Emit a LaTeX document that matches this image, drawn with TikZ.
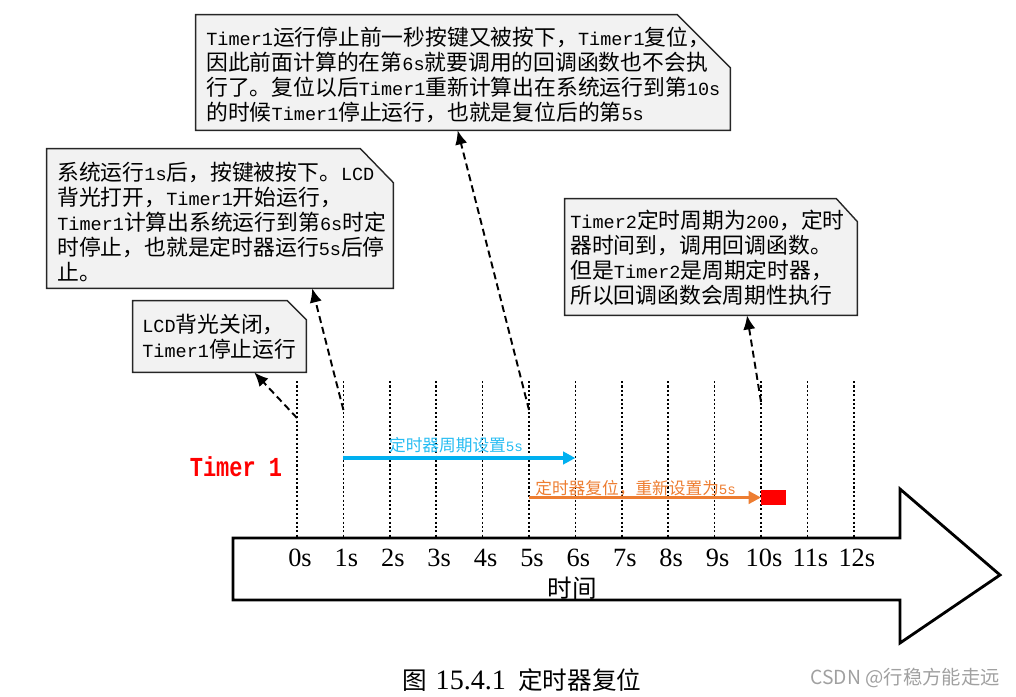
\documentclass[tikz,border=0pt]{standalone}
\usepackage{fontspec}
\usepackage{graphicx}
\setmainfont{Noto Sans CJK SC}
\newfontfamily\monof[Scale=0.85]{Liberation Mono}
\newfontfamily\monob{Liberation Mono}
\newfontfamily\serf{Liberation Serif}
\usetikzlibrary{arrows.meta,fit,calc}
\definecolor{boxfill}{HTML}{F2F2F2}
\definecolor{tblue}{RGB}{0,176,240}
\definecolor{torange}{RGB}{237,125,49}
\definecolor{wmgray}{HTML}{A0A0A0}
\newcommand\mylat[1]{{\monof #1}}
\begin{document}
\begin{tikzpicture}[x=0.02cm,y=-0.02cm,
  callout/.style={draw=black!85, line width=0.8pt, fill=boxfill},
  boxarea/.style={inner sep=0pt, draw=none},
  calltext/.style={anchor=north west, inner sep=0pt, align=left, font=\fontsize{12.4}{14.2}\selectfont},
  gridline/.style={line width=1pt, dash pattern=on 1.2pt off 1.3pt},
  pointer/.style={line width=1.1pt, dash pattern=on 4pt off 2.4pt, -{Latex[length=8pt,width=7pt]}},
  period/.style={line width=1.8pt, -{Triangle[length=7pt,width=7pt]}},
  ticklabel/.style={font=\serf\fontsize{15}{16}\selectfont, inner sep=0pt},
  smalllabel/.style={font=\fontsize{9.5}{11}\selectfont, inner sep=0pt},
  timeline/.style={draw=black, line width=1.6pt, fill=white, line join=miter}
]
\useasboundingbox (0,0) rectangle (1016,696);

% time axis arrow
\draw[timeline] (233,538) -- (900,538) -- (900,489) -- (1000,575) -- (900,643) -- (900,600) -- (233,600) -- cycle;
\node[font=\fontsize{14}{16}\selectfont, inner sep=0pt] (axisname) at (572,588) {时间};

% grid lines and tick labels
\foreach \i in {0,...,12}{
  \pgfmathsetmacro\gx{297+46.4*\i}
  \coordinate (gt\i) at (\gx,381);
  \coordinate (gb\i) at (\gx,537);
  \draw[gridline] (gt\i) -- (gb\i);
  \node[ticklabel] (tick\i) at (\gx+3,558) {\i s};
}

% callout boxes
\coordinate (a1) at (196,15);  \coordinate (a2) at (730,130);
\coordinate (b1) at (47,149);  \coordinate (b2) at (393,288);
\coordinate (c1) at (133,301); \coordinate (c2) at (306,372);
\coordinate (d1) at (565,199); \coordinate (d2) at (857,315);
\node[boxarea, fit=(a1)(a2)] (boxA) {};
\node[boxarea, fit=(b1)(b2)] (boxB) {};
\node[boxarea, fit=(c1)(c2)] (boxC) {};
\node[boxarea, fit=(d1)(d2)] (boxD) {};
\draw[callout] (boxA.south west) -- (boxA.north west) -- ([xshift=-1.06cm]boxA.north east) -- ([yshift=-1.06cm]boxA.north east) -- (boxA.south east) -- cycle;
\draw[callout] (boxB.south west) -- (boxB.north west) -- ([xshift=-0.66cm]boxB.north east) -- ([yshift=-0.68cm]boxB.north east) -- (boxB.south east) -- cycle;
\draw[callout] (boxC.south west) -- (boxC.north west) -- ([xshift=-0.38cm]boxC.north east) -- ([yshift=-0.38cm]boxC.north east) -- (boxC.south east) -- cycle;
\draw[callout] (boxD.south west) -- (boxD.north west) -- ([xshift=-0.42cm]boxD.north east) -- ([yshift=-0.46cm]boxD.north east) -- (boxD.south east) -- cycle;

\node[calltext] (tA) at (206,27) {\mylat{Timer1}运行停止前一秒按键又被按下，\mylat{Timer1}复位，\\
因此前面计算的在第\mylat{6s}就要调用的回调函数也不会执\\
行了。复位以后\mylat{Timer1}重新计算出在系统运行到第\mylat{10s}\\
的时候\mylat{Timer1}停止运行，也就是复位后的第\mylat{5s}};
\node[calltext] (tB) at (57,162) {系统运行\mylat{1s}后，按键被按下。\mylat{LCD}\\
背光打开，\mylat{Timer1}开始运行，\\
\mylat{Timer1}计算出系统运行到第\mylat{6s}时定\\
时停止，也就是定时器运行\mylat{5s}后停\\
止。};
\node[calltext] (tC) at (142,314) {\mylat{LCD}背光关闭，\\
\mylat{Timer1}停止运行};
\node[calltext] (tD) at (570,210) {\mylat{Timer2}定时周期为\mylat{200}，定时\\
器时间到，调用回调函数。\\
但是\mylat{Timer2}是周期定时器，\\
所以回调函数会周期性执行};

% pointers from the time axis to the callouts
\coordinate (s0) at (297,418);
\coordinate (s1) at (343.4,410);
\coordinate (s5) at (529,410);
\coordinate (s10) at (761,402);
\draw[pointer] (s0) -- ($(boxC.south west)!0.70!(boxC.south east)$);
\draw[pointer] (s1) -- ($(boxB.south west)!0.766!(boxB.south east)$);
\draw[pointer] (s5) -- ($(boxA.south west)!0.49!(boxA.south east)$);
\draw[pointer] (s10) -- ($(boxD.south west)!0.623!(boxD.south east)$);

% Timer 1 label
\node[text=red, inner sep=0pt] (timerlabel) at (236,467) {\scalebox{1}[1.25]{\monob\bfseries\fontsize{12.5}{14}\selectfont Timer 1}};

% timer periods
\coordinate (bs) at (343.4,458);
\coordinate (be) at (575.4,458);
\draw[period, tblue] (bs) -- (be);
\node[smalllabel, text=tblue!85] (bluelabel) at (456,445) {定时器周期设置\mylat{5s}};

\node[fill=red, inner sep=0pt, minimum width=0.5cm, minimum height=0.3cm, anchor=west] (endA) at (761,497.5) {};
\coordinate (os) at (529,497.5);
\draw[period, torange] (os) -- (endA.west);
\node[smalllabel, text=torange, anchor=west] (orangelabel) at (535,488) {定时器复位，重新设置为\mylat{5s}};

% caption and watermark
\node[font=\fontsize{14}{16}\selectfont, anchor=west, inner sep=0pt] (caption) at (402,680) {图\hspace{5pt}{\serf\fontsize{16}{18}\selectfont 15.4.1}\hspace{7pt}定时器复位};
\node[font=\fontsize{11}{13}\selectfont, text=wmgray, anchor=east, inner sep=0pt] (wm) at (1000,678) {CSDN @行稳方能走远};
\end{tikzpicture}
\end{document}
